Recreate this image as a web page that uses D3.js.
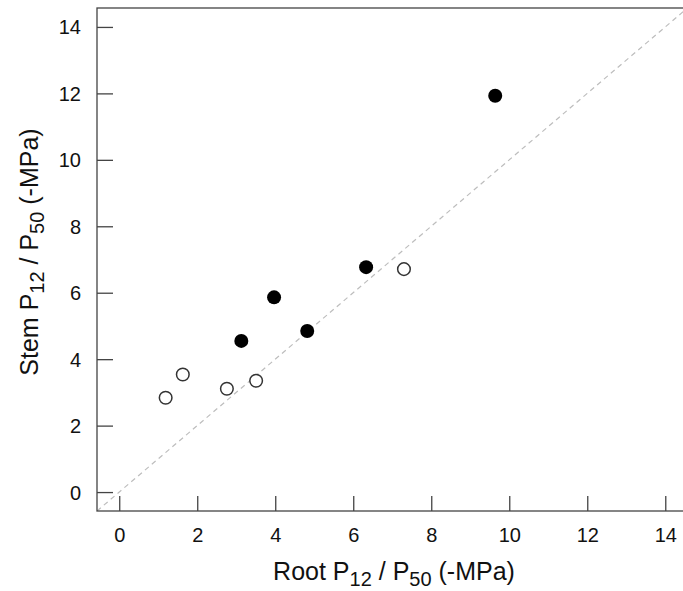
<!DOCTYPE html>
<html>
<head>
<meta charset="utf-8">
<script src="https://cdn.jsdelivr.net/npm/d3@7"></script>
<style>
  body { margin: 0; background: #fff; }
  svg { display: block; font-family: "Liberation Sans", Arial, sans-serif; }
</style>
</head>
<body>
<svg id="chart" width="683" height="591"></svg>
<script>
// Data
const filledRoot = [3.13, 3.97, 4.82, 6.33, 9.64];
const filledStem = [4.55, 5.86, 4.85, 6.77, 11.93];
const openRoot   = [1.19, 1.63, 2.76, 3.51, 7.30];
const openStem   = [2.84, 3.54, 3.11, 3.35, 6.71];
const xTicks = [0, 2, 4, 6, 8, 10, 12, 14];
const yTicks = [0, 2, 4, 6, 8, 10, 12, 14];
const domain = [-0.57, 14.57];

const svg = d3.select("#chart");
const pL = 97, pR = 687.5, pT = 8, pB = 511;

const x = d3.scaleLinear().domain(domain).range([pL, pR]);
const y = d3.scaleLinear().domain(domain).range([pB, pT]);

svg.append("defs").append("clipPath").attr("id", "clip")
  .append("rect").attr("x", pL).attr("y", pT)
  .attr("width", pR - pL).attr("height", pB - pT);

// 1:1 line
svg.append("line")
  .attr("clip-path", "url(#clip)")
  .attr("x1", x(domain[0])).attr("y1", y(domain[0]))
  .attr("x2", x(domain[1])).attr("y2", y(domain[1]))
  .attr("stroke", "#bdbdbd").attr("stroke-width", 1.2)
  .attr("stroke-dasharray", "5,4");

// frame
svg.append("rect")
  .attr("x", pL).attr("y", pT)
  .attr("width", pR - pL).attr("height", pB - pT)
  .attr("fill", "none").attr("stroke", "#444").attr("stroke-width", 1.3);

// x axis (ticks inward)
const xAxis = d3.axisBottom(x).tickValues(xTicks).tickSize(-15).tickPadding(0).tickFormat(d3.format("d"));
const gx = svg.append("g").attr("transform", `translate(0,${pB})`).call(xAxis);
gx.attr("font-size", null).attr("font-family", null);
gx.select(".domain").remove();
gx.selectAll(".tick line").attr("stroke", "#444").attr("stroke-width", 1.3);
gx.selectAll(".tick text")
  .attr("y", 31).attr("dy", null)
  .style("font-size", "20px").attr("fill", "#111");

// y axis (ticks inward)
const yAxis = d3.axisLeft(y).tickValues(yTicks).tickSize(-16).tickPadding(0).tickFormat(d3.format("d"));
const gy = svg.append("g").attr("transform", `translate(${pL},0)`).call(yAxis);
gy.attr("font-size", null).attr("font-family", null);
gy.select(".domain").remove();
gy.selectAll(".tick line").attr("stroke", "#444").attr("stroke-width", 1.3);
gy.selectAll(".tick text")
  .attr("x", -16).attr("dy", "0.35em")
  .style("font-size", "20px").attr("fill", "#111");

// points
const openData = openRoot.map((r, i) => ({ r, s: openStem[i] }));
const filledData = filledRoot.map((r, i) => ({ r, s: filledStem[i] }));

svg.append("g").selectAll("circle").data(openData).join("circle")
  .attr("cx", d => x(d.r)).attr("cy", d => y(d.s)).attr("r", 6.3)
  .attr("fill", "#fff").attr("stroke", "#333").attr("stroke-width", 1.5);

svg.append("g").selectAll("circle").data(filledData).join("circle")
  .attr("cx", d => x(d.r)).attr("cy", d => y(d.s)).attr("r", 7)
  .attr("fill", "#000");

// axis titles with subscripts
function title(g, word) {
  const t = g.append("text").style("font-size", "25px").attr("fill", "#111").attr("text-anchor", "middle");
  t.append("tspan").text(word + " P");
  t.append("tspan").style("font-size", "20px").attr("dy", 6).text("12");
  t.append("tspan").attr("dy", -6).text(" / P");
  t.append("tspan").style("font-size", "20px").attr("dy", 6).text("50");
  t.append("tspan").attr("dy", -6).text(" (-MPa)");
  return t;
}
title(svg.append("g").attr("transform", "translate(394,580)"), "Root");
title(svg.append("g").attr("transform", "translate(38,252) rotate(-90)"), "Stem");
</script>
</body>
</html>
